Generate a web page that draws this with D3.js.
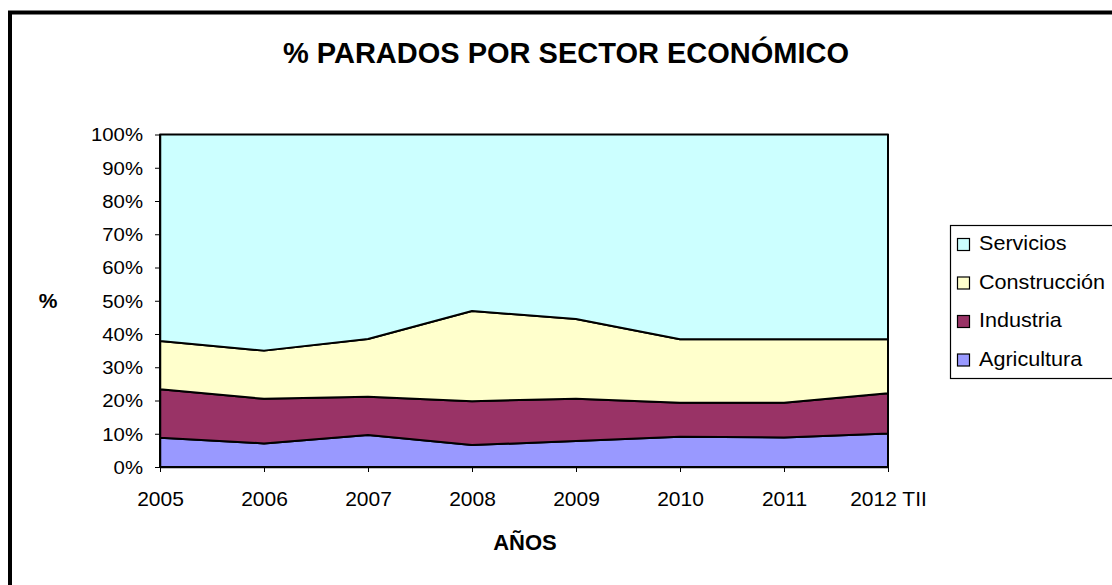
<html>
  <head>
    <meta charset="utf-8">
    <script src="https://cdn.jsdelivr.net/npm/d3@7"></script>
    <style>
      body { margin: 0; background: #fff; }
      text { font-family: "Liberation Sans", Arial, sans-serif; fill: #000; }
    </style>
  </head>
  <body>
    <script>
      const years = ["2005", "2006", "2007", "2008", "2009", "2010", "2011", "2012 TII"];
      const series = ["Agricultura", "Industria", "Construcción", "Servicios"];
      const agricultura = [8.8, 7.1, 9.6, 6.6, 7.8, 9.1, 8.9, 10.1];
      const industria = [14.6, 13.4, 11.5, 13.2, 12.7, 10.2, 10.4, 12.1];
      const construccion = [14.5, 14.5, 17.4, 27.1, 24.0, 19.1, 19.1, 16.2];
      const servicios = [62.1, 65.0, 61.5, 53.1, 55.5, 61.6, 61.6, 61.6];
      const yTicks = [0, 0.1, 0.2, 0.3, 0.4, 0.5, 0.6, 0.7, 0.8, 0.9, 1];
      const colors = ["#9999FF", "#993366", "#FFFFCC", "#CCFFFF"];

      const width = 1112, height = 585;
      const svg = d3.select("body").append("svg")
          .attr("width", width)
          .attr("height", height);

      // outer chart frame (runs off the right/bottom edges)
      svg.append("path")
          .attr("d", "M10,600 L10,12.5 L1130,12.5")
          .attr("fill", "none")
          .attr("stroke", "#000")
          .attr("stroke-width", 4);

      svg.append("text")
          .attr("x", 566).attr("y", 63)
          .attr("text-anchor", "middle")
          .style("font-size", "29px")
          .style("font-weight", "bold")
          .text("% PARADOS POR SECTOR ECONÓMICO");

      const rows = years.map((y, i) => ({
        year: y,
        "Agricultura": agricultura[i],
        "Industria": industria[i],
        "Construcción": construccion[i],
        "Servicios": servicios[i]
      }));

      const stacked = d3.stack()
          .keys(series)
          .offset(d3.stackOffsetExpand)(rows);

      const x = d3.scalePoint().domain(years).range([160, 888]);
      const y = d3.scaleLinear().domain([0, 1]).range([467, 134.5]);

      const area = d3.area()
          .x(d => x(d.data.year))
          .y0(d => y(d[0]))
          .y1(d => y(d[1]));

      svg.append("g").selectAll("path")
        .data(stacked)
        .join("path")
          .attr("d", area)
          .attr("fill", (d, i) => colors[i])
          .attr("stroke", "#000")
          .attr("stroke-width", 2)
          .attr("stroke-linejoin", "round");

      svg.append("line")
          .attr("x1", 888).attr("x2", 888)
          .attr("y1", y(1)).attr("y2", y(0))
          .attr("stroke", "#000").attr("stroke-width", 1.5);

      const yAxis = svg.append("g")
          .attr("transform", "translate(160,0)")
          .call(d3.axisLeft(y).tickValues(yTicks).tickFormat(d3.format(".0%")).tickSize(5).tickSizeOuter(0))
          .call(g => g.selectAll("text")
              .style("font-size", "18.5px")
              .attr("x", 0).attr("dy", "0.35em")
              .attr("transform", "translate(-17,0) scale(1.1,1)"));
      yAxis.select(".domain").attr("stroke-width", 1.5);

      const xAxis = svg.append("g")
          .attr("transform", "translate(0,467)")
          .call(d3.axisBottom(x).tickSize(5).tickSizeOuter(0))
          .call(g => g.selectAll("text")
              .style("font-size", "21px")
              .attr("y", 39).attr("dy", 0));
      xAxis.select(".domain").attr("stroke-width", 1.5);

      svg.append("text")
          .attr("x", 48).attr("y", 308)
          .attr("text-anchor", "middle")
          .style("font-size", "21px").style("font-weight", "bold")
          .text("%");

      svg.append("text")
          .attr("x", 525).attr("y", 550)
          .attr("text-anchor", "middle")
          .style("font-size", "22px").style("font-weight", "bold")
          .text("AÑOS");

      // legend
      svg.append("rect")
          .attr("x", 950.5).attr("y", 225.5)
          .attr("width", 200).attr("height", 153)
          .attr("fill", "#fff")
          .attr("stroke", "#000").attr("stroke-width", 1.2);

      const legendItems = series.slice().reverse();
      const legend = svg.append("g").selectAll("g")
        .data(legendItems)
        .join("g")
          .attr("transform", (d, i) => `translate(957,${243 + i * 38.5})`);
      legend.append("rect")
          .attr("x", 0.5).attr("y", -4.5)
          .attr("width", 12).attr("height", 12)
          .attr("fill", d => colors[series.indexOf(d)])
          .attr("stroke", "#000").attr("stroke-width", 1.2);
      legend.append("text")
          .attr("x", 0).attr("y", 0)
          .attr("dy", "0.35em")
          .attr("transform", "translate(22,0) scale(1.08,1)")
          .style("font-size", "20px")
          .text(d => d);
    </script>
  </body>
</html>
